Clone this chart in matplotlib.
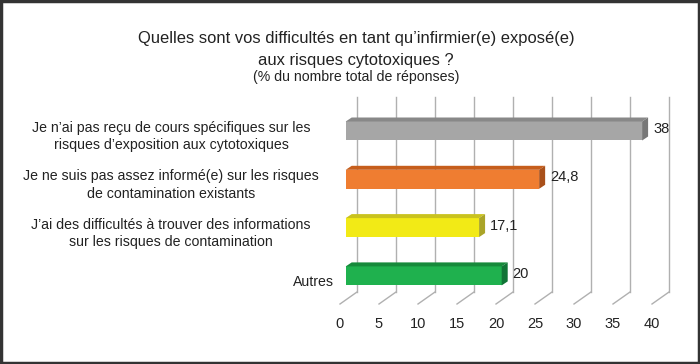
import matplotlib
matplotlib.use("Agg")
import matplotlib.pyplot as plt
from matplotlib.patches import Polygon, Rectangle

plt.rcParams['font.family'] = ['Liberation Sans', 'DejaVu Sans']

categories = [
    "Je n\u2019ai pas reçu de cours spécifiques sur les\nrisques d\u2019exposition aux cytotoxiques",
    "Je ne suis pas assez informé(e) sur les risques\nde contamination existants",
    "J\u2019ai des difficultés à trouver des informations\nsur les risques de contamination",
    "Autres",
]
values = [38, 24.8, 17.1, 20]
value_labels = ["38", "24,8", "17,1", "20"]
ticks = [0, 5, 10, 15, 20, 25, 30, 35, 40]

front_colors = ['#a6a6a6', '#ef7d31', '#f2ea16', '#1fb14e']
top_colors = ['#888888', '#c65e1c', '#c9c21e', '#168a3b']
side_colors = ['#777777', '#a9501a', '#aaa428', '#117436']

# pixel scale of the axes (for the pseudo 3d offsets)
PX_X = 7.8    # px per unit on x
PX_Y = 48.3   # px per category step
W, H = 700, 364

fig = plt.figure(figsize=(7, 3.64), dpi=100)
fig.patches.append(Rectangle((0.002, 0.003), 0.996, 0.994, transform=fig.transFigure,
                             fill=False, edgecolor='#333333', lw=2.5))

y0 = 131  # pixel y of first bar centre
top_px, bot_px = 90, 310
ax = fig.add_axes([340 / W, 1 - bot_px / H, 312 / W, (bot_px - top_px) / H])
ax.set_xlim(0, 40)
ax.set_ylim((bot_px - y0) / PX_Y, -(y0 - top_px) / PX_Y)
for s in ax.spines.values():
    s.set_visible(False)

def ux(px):
    return px / PX_X

def uy(px):
    return px / PX_Y

# grid: back wall verticals + floor diagonals
front_base = uy(304 - y0)
back_base = uy(292 - y0)
back_top = uy(97 - y0)
gdx = ux(17)
for t in ticks:
    ax.plot([t + gdx, t + gdx], [back_base, back_top], color='#b0b0b0', lw=1, zorder=1,
            clip_on=False)
    ax.plot([t, t + gdx], [front_base, back_base], color='#b0b0b0', lw=1, zorder=1,
            clip_on=False)

# bars
shift = ux(5.7)
bh = uy(19)
ddx, ddy = ux(6), uy(4)
ypos = list(range(len(values)))
ax.barh(ypos, values, left=shift, height=bh, color=front_colors, zorder=3)
for i, v in enumerate(values):
    t, b = i - bh / 2, i + bh / 2
    r = shift + v
    ax.add_patch(Polygon([(shift, t), (r, t), (r + ddx, t - ddy), (shift + ddx, t - ddy)],
                         closed=True, color=top_colors[i], zorder=3, lw=0))
    ax.add_patch(Polygon([(r, t), (r + ddx, t - ddy), (r + ddx, b - ddy), (r, b)],
                         closed=True, color=side_colors[i], zorder=3, lw=0))
    ax.text(r + ddx + ux(5), i - uy(2), value_labels[i], va='center', ha='left',
            fontsize=10.5, color='#222222')

# category labels
label_x = [171, 171, 171, 313]
for i, c in enumerate(categories):
    ax.text(ux(label_x[i] - 340), i + 0.12, c, ha='center', va='center',
            multialignment='center', fontsize=10.2, color='#222222', linespacing=1.3,
            clip_on=False)

ax.set_yticks([])
ax.set_xticks(ticks)
ax.set_xticklabels([str(t) for t in ticks], fontsize=10.5, color='#222222')
ax.tick_params(axis='x', length=0, pad=5)

fig.text(356 / W, 1 - 39 / H, "Quelles sont vos difficultés en tant qu\u2019infirmier(e) exposé(e)",
         ha='center', va='center', fontsize=11.9, color='#222222')
fig.text(356 / W, 1 - 60 / H, "aux risques cytotoxiques ?",
         ha='center', va='center', fontsize=11.9, color='#222222')
fig.text(356 / W, 1 - 77 / H, "(% du nombre total de réponses)",
         ha='center', va='center', fontsize=10.2, color='#222222')

fig.savefig("out.png", dpi=100)
